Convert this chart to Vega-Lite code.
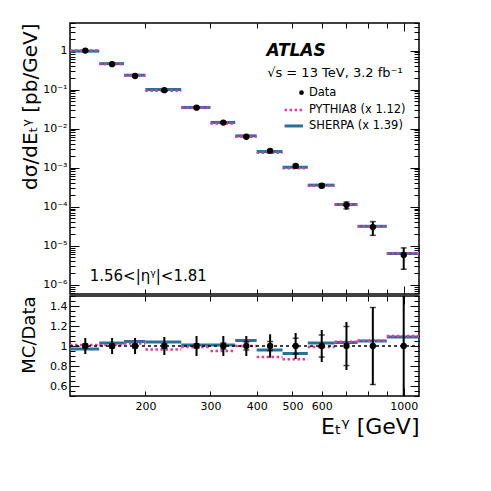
{
  "$schema": "https://vega.github.io/schema/vega-lite/v6.json",
  "padding": {"left": 19, "top": 21, "right": 5, "bottom": 5},
  "background": "white",
  "spacing": -2,
  "config": {
    "font": "DejaVu Sans",
    "view": {"stroke": "black", "strokeWidth": 1.5},
    "axis": {"domain": false, "grid": false, "tickColor": "black", "tickWidth": 1, "labelColor": "black", "titleColor": "black", "labelFont": "DejaVu Sans", "titleFont": "DejaVu Sans", "labelFontSize": 11, "titleFontWeight": "normal", "labelFlush": false, "labelOverlap": false, "minExtent": 0},
    "text": {"font": "DejaVu Sans"}
  },
  "datasets": {
    "bins": [
      {"lo":125,"hi":150,"x":137.5,"xsec":1.0,"xsec_lo":0.92,"xsec_hi":1.08,"cap_lo":0.98,"cap_hi":1.02,"pythia":1.01,"sherpa":0.97,"r_pythia":1.01,"r_sherpa":0.97,"r_lo":0.92,"r_hi":1.08,"rc_lo":0.98,"rc_hi":1.02},
      {"lo":150,"hi":175,"x":162.5,"xsec":0.45,"xsec_lo":0.414,"xsec_hi":0.486,"cap_lo":0.441,"cap_hi":0.459,"pythia":0.4545,"sherpa":0.4635,"r_pythia":1.01,"r_sherpa":1.03,"r_lo":0.92,"r_hi":1.08,"rc_lo":0.98,"rc_hi":1.02},
      {"lo":175,"hi":200,"x":187.5,"xsec":0.224,"xsec_lo":0.2061,"xsec_hi":0.2419,"cap_lo":0.2195,"cap_hi":0.2285,"pythia":0.2296,"sherpa":0.2341,"r_pythia":1.025,"r_sherpa":1.045,"r_lo":0.92,"r_hi":1.08,"rc_lo":0.98,"rc_hi":1.02},
      {"lo":200,"hi":250,"x":225,"xsec":0.097,"xsec_lo":0.0883,"xsec_hi":0.1057,"cap_lo":0.0951,"cap_hi":0.0989,"pythia":0.0936,"sherpa":0.1009,"r_pythia":0.965,"r_sherpa":1.04,"r_lo":0.91,"r_hi":1.09,"rc_lo":0.98,"rc_hi":1.02},
      {"lo":250,"hi":300,"x":275,"xsec":0.0346,"xsec_lo":0.03114,"xsec_hi":0.03806,"cap_lo":0.03391,"cap_hi":0.03529,"pythia":0.03425,"sherpa":0.03495,"r_pythia":0.99,"r_sherpa":1.01,"r_lo":0.9,"r_hi":1.1,"rc_lo":0.98,"rc_hi":1.02},
      {"lo":300,"hi":350,"x":325,"xsec":0.0143,"xsec_lo":0.01287,"xsec_hi":0.01573,"cap_lo":0.01387,"cap_hi":0.01473,"pythia":0.01359,"sherpa":0.01444,"r_pythia":0.95,"r_sherpa":1.01,"r_lo":0.9,"r_hi":1.1,"rc_lo":0.97,"rc_hi":1.03},
      {"lo":350,"hi":400,"x":375,"xsec":0.0062,"xsec_lo":0.00558,"xsec_hi":0.00682,"cap_lo":0.005952,"cap_hi":0.006448,"pythia":0.0062,"sherpa":0.00654,"r_pythia":1.0,"r_sherpa":1.055,"r_lo":0.9,"r_hi":1.1,"rc_lo":0.96,"rc_hi":1.04},
      {"lo":400,"hi":470,"x":435,"xsec":0.0027,"xsec_lo":0.002384,"xsec_hi":0.003016,"cap_lo":0.002579,"cap_hi":0.002822,"pythia":0.002403,"sherpa":0.002592,"r_pythia":0.89,"r_sherpa":0.96,"r_lo":0.883,"r_hi":1.117,"rc_lo":0.955,"rc_hi":1.045},
      {"lo":470,"hi":550,"x":510,"xsec":0.00111,"xsec_lo":0.000966,"xsec_hi":0.001254,"cap_lo":0.001023,"cap_hi":0.001197,"pythia":0.000962,"sherpa":0.001027,"r_pythia":0.867,"r_sherpa":0.925,"r_lo":0.87,"r_hi":1.13,"rc_lo":0.922,"rc_hi":1.078},
      {"lo":550,"hi":650,"x":600,"xsec":0.000347,"xsec_lo":0.0002915,"xsec_hi":0.0004025,"cap_lo":0.0003088,"cap_hi":0.0003852,"pythia":0.0003435,"sherpa":0.0003574,"r_pythia":0.99,"r_sherpa":1.03,"r_lo":0.84,"r_hi":1.16,"rc_lo":0.89,"rc_hi":1.11},
      {"lo":650,"hi":750,"x":700,"xsec":0.00011,"xsec_lo":0.0000836,"xsec_hi":0.0001364,"cap_lo":0.0000886,"cap_hi":0.0001315,"pythia":0.0001147,"sherpa":0.0001139,"r_pythia":1.043,"r_sherpa":1.035,"r_lo":0.76,"r_hi":1.24,"rc_lo":0.805,"rc_hi":1.195},
      {"lo":750,"hi":900,"x":825,"xsec":0.00003,"xsec_lo":0.0000183,"xsec_hi":0.0000417,"cap_lo":0.00001845,"cap_hi":0.00004155,"pythia":0.0000316,"sherpa":0.0000315,"r_pythia":1.053,"r_sherpa":1.05,"r_lo":0.61,"r_hi":1.39,"rc_lo":0.615,"rc_hi":1.385},
      {"lo":900,"hi":1100,"x":1000,"xsec":0.0000058,"xsec_lo":0.00000245,"xsec_hi":0.0000089,"cap_lo":0.0000025,"cap_hi":0.0000088,"pythia":0.00000638,"sherpa":0.00000632,"r_pythia":1.1,"r_sherpa":1.09,"r_lo":0.42,"r_hi":1.53,"rc_lo":0.43,"rc_hi":1.52}
    ]
  },
  "vconcat": [
    {
      "width": 349,
      "height": 271,
      "data": {"name": "bins"},
      "resolve": {"axis": {"x": "independent", "y": "independent"}},
      "layer": [
        {
          "mark": {"type": "rule", "color": "#2b7196", "strokeWidth": 3},
          "encoding": {
            "x": {"field": "lo", "type": "quantitative", "scale": {"type": "log", "domain": [125, 1100], "nice": false},
                  "axis": {"orient": "bottom", "values": [200,300,400,500,600,700,800,900,1000], "labels": false, "title": null, "tickSize": -5}},
            "x2": {"field": "hi"},
            "y": {"field": "sherpa", "type": "quantitative", "scale": {"type": "log", "domain": [5.8e-7, 5.1], "nice": false},
                  "axis": {"orient": "left", "labels": false, "tickSize": -5,
                           "values": [6e-7,7e-7,8e-7,9e-7,2e-6,3e-6,4e-6,5e-6,6e-6,7e-6,8e-6,9e-6,2e-5,3e-5,4e-5,5e-5,6e-5,7e-5,8e-5,9e-5,2e-4,3e-4,4e-4,5e-4,6e-4,7e-4,8e-4,9e-4,0.002,0.003,0.004,0.005,0.006,0.007,0.008,0.009,0.02,0.03,0.04,0.05,0.06,0.07,0.08,0.09,0.2,0.3,0.4,0.5,0.6,0.7,0.8,0.9,2,3,4,5],
                           "title": "dσ/dEₜᵞ [pb/GeV]", "titleFontSize": 20, "titleAngle": 270, "titleAlign": "right", "titleBaseline": "alphabetic", "titleX": -34, "titleY": 0}}
          }
        },
        {
          "mark": {"type": "rule", "color": "#dc3c9e", "strokeWidth": 2.5, "strokeDash": [2.5, 2.5]},
          "encoding": {
            "x": {"field": "lo", "type": "quantitative", "axis": null},
            "x2": {"field": "hi"},
            "y": {"field": "pythia", "type": "quantitative", "axis": null}
          }
        },
        {
          "mark": {"type": "rule", "color": "black", "strokeWidth": 2},
          "encoding": {
            "x": {"field": "x", "type": "quantitative", "axis": null},
            "y": {"field": "xsec_lo", "type": "quantitative", "axis": null},
            "y2": {"field": "xsec_hi"}
          }
        },
        {
          "mark": {"type": "tick", "orient": "horizontal", "size": 6, "thickness": 1.5, "color": "black"},
          "encoding": {
            "x": {"field": "x", "type": "quantitative", "axis": null},
            "y": {"field": "cap_lo", "type": "quantitative", "axis": null}
          }
        },
        {
          "mark": {"type": "tick", "orient": "horizontal", "size": 6, "thickness": 1.5, "color": "black"},
          "encoding": {
            "x": {"field": "x", "type": "quantitative", "axis": null},
            "y": {"field": "cap_hi", "type": "quantitative", "axis": null}
          }
        },
        {
          "mark": {"type": "circle", "size": 40, "color": "black", "opacity": 1},
          "encoding": {
            "x": {"field": "x", "type": "quantitative", "axis": {"orient": "bottom", "values": [1000], "labels": false, "title": null, "tickSize": -8}},
            "y": {"field": "xsec", "type": "quantitative",
                  "axis": {"orient": "left", "values": [1e-6,1e-5,1e-4,0.001,0.01,0.1,1], "tickSize": -9, "labelPadding": 12, "title": null,
                           "labelExpr": "datum.value===1?'1':datum.value===0.1?'10⁻¹':datum.value===0.01?'10⁻²':datum.value===0.001?'10⁻³':datum.value===0.0001?'10⁻⁴':datum.value===0.00001?'10⁻⁵':datum.value===0.000001?'10⁻⁶':''"}}
          }
        },
        {
          "mark": {"type": "point", "opacity": 0},
          "encoding": {
            "x": {"field": "x", "type": "quantitative", "scale": {"type": "log", "domain": [125, 1100], "nice": false},
                  "axis": {"orient": "top", "values": [200,300,400,500,600,700,800,900,1000], "labels": false, "title": null, "tickSize": -5}},
            "y": {"field": "xsec", "type": "quantitative", "scale": {"type": "log", "domain": [5.8e-7, 5.1], "nice": false},
                  "axis": {"orient": "right", "labels": false, "title": null, "tickSize": -5,
                           "values": [6e-7,7e-7,8e-7,9e-7,2e-6,3e-6,4e-6,5e-6,6e-6,7e-6,8e-6,9e-6,2e-5,3e-5,4e-5,5e-5,6e-5,7e-5,8e-5,9e-5,2e-4,3e-4,4e-4,5e-4,6e-4,7e-4,8e-4,9e-4,0.002,0.003,0.004,0.005,0.006,0.007,0.008,0.009,0.02,0.03,0.04,0.05,0.06,0.07,0.08,0.09,0.2,0.3,0.4,0.5,0.6,0.7,0.8,0.9,2,3,4,5]}}
          }
        },
        {
          "mark": {"type": "point", "opacity": 0},
          "encoding": {
            "x": {"field": "x", "type": "quantitative", "axis": {"orient": "top", "values": [1000], "labels": false, "title": null, "tickSize": -8}},
            "y": {"field": "xsec", "type": "quantitative", "axis": {"orient": "right", "values": [1e-6,1e-5,1e-4,0.001,0.01,0.1,1], "labels": false, "title": null, "tickSize": -9}}
          }
        },
        {
          "data": {"values": [{}]},
          "mark": {"type": "text", "text": "ATLAS", "font": "DejaVu Sans", "fontSize": 17, "fontWeight": "bold", "fontStyle": "italic", "align": "left", "baseline": "alphabetic", "color": "black"},
          "encoding": {"x": {"datum": 425, "type": "quantitative", "axis": null}, "y": {"datum": 0.73, "type": "quantitative", "axis": null}}
        },
        {
          "data": {"values": [{}]},
          "mark": {"type": "text", "text": "√s = 13 TeV, 3.2 fb⁻¹", "font": "DejaVu Sans", "fontSize": 13, "align": "left", "baseline": "alphabetic", "color": "black"},
          "encoding": {"x": {"datum": 427, "type": "quantitative", "axis": null}, "y": {"datum": 0.215, "type": "quantitative", "axis": null}}
        },
        {
          "data": {"values": [{}]},
          "mark": {"type": "circle", "size": 22, "color": "black", "opacity": 1},
          "encoding": {"x": {"datum": 529, "type": "quantitative", "axis": null}, "y": {"datum": 0.0838, "type": "quantitative", "axis": null}}
        },
        {
          "data": {"values": [{}]},
          "mark": {"type": "text", "text": "Data", "font": "DejaVu Sans", "fontSize": 11.5, "align": "left", "baseline": "alphabetic", "color": "black"},
          "encoding": {"x": {"datum": 554, "type": "quantitative", "axis": null}, "y": {"datum": 0.0689, "type": "quantitative", "axis": null}}
        },
        {
          "data": {"values": [{}]},
          "mark": {"type": "rule", "color": "#dc3c9e", "strokeWidth": 2.5, "strokeDash": [2.5, 2.5]},
          "encoding": {"x": {"datum": 476, "type": "quantitative", "axis": null}, "x2": {"datum": 534}, "y": {"datum": 0.0302, "type": "quantitative", "axis": null}}
        },
        {
          "data": {"values": [{}]},
          "mark": {"type": "text", "text": "PYTHIA8 (x 1.12)", "font": "DejaVu Sans", "fontSize": 11.5, "align": "left", "baseline": "alphabetic", "color": "black"},
          "encoding": {"x": {"datum": 554, "type": "quantitative", "axis": null}, "y": {"datum": 0.0257, "type": "quantitative", "axis": null}}
        },
        {
          "data": {"values": [{}]},
          "mark": {"type": "rule", "color": "#2b7196", "strokeWidth": 3},
          "encoding": {"x": {"datum": 476, "type": "quantitative", "axis": null}, "x2": {"datum": 534}, "y": {"datum": 0.01173, "type": "quantitative", "axis": null}}
        },
        {
          "data": {"values": [{}]},
          "mark": {"type": "text", "text": "SHERPA (x 1.39)", "font": "DejaVu Sans", "fontSize": 11.5, "align": "left", "baseline": "alphabetic", "color": "black"},
          "encoding": {"x": {"datum": 554, "type": "quantitative", "axis": null}, "y": {"datum": 0.00966, "type": "quantitative", "axis": null}}
        },
        {
          "data": {"values": [{}]},
          "mark": {"type": "text", "text": "1.56<|ηᵞ|<1.81", "font": "DejaVu Sans", "fontSize": 15, "align": "left", "baseline": "alphabetic", "color": "black"},
          "encoding": {"x": {"datum": 141.3, "type": "quantitative", "axis": null}, "y": {"datum": 0.000001245, "type": "quantitative", "axis": null}}
        }
      ]
    },
    {
      "width": 349,
      "height": 100,
      "data": {"name": "bins"},
      "resolve": {"axis": {"x": "independent", "y": "independent"}},
      "layer": [
        {
          "mark": {"type": "rule", "color": "#2b7196", "strokeWidth": 3, "clip": true},
          "encoding": {
            "x": {"field": "lo", "type": "quantitative", "scale": {"type": "log", "domain": [125, 1100], "nice": false},
                  "axis": {"orient": "bottom", "values": [200,300,400,500,600,700,800,900,1000], "format": "d",
                           "labelExpr": "indexof([700,800,900],datum.value)>=0?'':datum.label",
                           "tickSize": -5, "labelPadding": 9,
                           "title": "Eₜᵞ [GeV]", "titleFontSize": 22, "titleAnchor": "end", "titleAlign": "right", "titleBaseline": "alphabetic", "titleX": 349, "titleY": 37}},
            "x2": {"field": "hi"},
            "y": {"field": "r_sherpa", "type": "quantitative", "scale": {"domain": [0.5, 1.5], "nice": false, "zero": false},
                  "axis": {"orient": "left", "labels": false, "tickSize": -5,
                           "values": [0.5,0.55,0.65,0.7,0.75,0.85,0.9,0.95,1.05,1.1,1.15,1.25,1.3,1.35,1.45,1.5],
                           "title": "MC/Data", "titleFontSize": 18, "titleAngle": 270, "titleAlign": "right", "titleBaseline": "alphabetic", "titleX": -35.5, "titleY": 0}}
          }
        },
        {
          "mark": {"type": "rule", "color": "#dc3c9e", "strokeWidth": 2.5, "strokeDash": [2.5, 2.5], "clip": true},
          "encoding": {
            "x": {"field": "lo", "type": "quantitative", "axis": null},
            "x2": {"field": "hi"},
            "y": {"field": "r_pythia", "type": "quantitative", "axis": null}
          }
        },
        {
          "data": {"values": [{}]},
          "mark": {"type": "rule", "color": "black", "strokeWidth": 1.5, "strokeDash": [3, 3]},
          "encoding": {"x": {"datum": 125, "type": "quantitative", "axis": null}, "x2": {"datum": 1100}, "y": {"datum": 1, "type": "quantitative", "axis": null}}
        },
        {
          "mark": {"type": "rule", "color": "black", "strokeWidth": 2, "clip": true},
          "encoding": {
            "x": {"field": "x", "type": "quantitative", "axis": null},
            "y": {"field": "r_lo", "type": "quantitative", "axis": null},
            "y2": {"field": "r_hi"}
          }
        },
        {
          "mark": {"type": "tick", "orient": "horizontal", "size": 6, "thickness": 1.5, "color": "black", "clip": true},
          "encoding": {
            "x": {"field": "x", "type": "quantitative", "axis": null},
            "y": {"field": "rc_lo", "type": "quantitative", "axis": null}
          }
        },
        {
          "mark": {"type": "tick", "orient": "horizontal", "size": 6, "thickness": 1.5, "color": "black", "clip": true},
          "encoding": {
            "x": {"field": "x", "type": "quantitative", "axis": null},
            "y": {"field": "rc_hi", "type": "quantitative", "axis": null}
          }
        },
        {
          "mark": {"type": "circle", "size": 40, "color": "black", "opacity": 1},
          "encoding": {
            "x": {"field": "x", "type": "quantitative", "axis": {"orient": "bottom", "values": [1000], "labels": false, "title": null, "tickSize": -8}},
            "y": {"datum": 1, "type": "quantitative",
                  "axis": {"orient": "left", "values": [0.6,0.8,1,1.2,1.4], "tickSize": -9, "labelPadding": 12, "title": null,
                           "labelExpr": "format(datum.value,'.1~f')"}}
          }
        },
        {
          "mark": {"type": "point", "opacity": 0},
          "encoding": {
            "x": {"field": "x", "type": "quantitative", "scale": {"type": "log", "domain": [125, 1100], "nice": false},
                  "axis": {"orient": "top", "values": [200,300,400,500,600,700,800,900,1000], "labels": false, "title": null, "tickSize": -5}},
            "y": {"field": "r_pythia", "type": "quantitative", "scale": {"domain": [0.5, 1.5], "nice": false, "zero": false},
                  "axis": {"orient": "right", "labels": false, "title": null, "tickSize": -5,
                           "values": [0.5,0.55,0.65,0.7,0.75,0.85,0.9,0.95,1.05,1.1,1.15,1.25,1.3,1.35,1.45,1.5]}}
          }
        },
        {
          "mark": {"type": "point", "opacity": 0},
          "encoding": {
            "x": {"field": "x", "type": "quantitative", "axis": {"orient": "top", "values": [1000], "labels": false, "title": null, "tickSize": -8}},
            "y": {"field": "r_pythia", "type": "quantitative", "axis": {"orient": "right", "values": [0.6,0.8,1,1.2,1.4], "labels": false, "title": null, "tickSize": -9}}
          }
        }
      ]
    }
  ]
}
